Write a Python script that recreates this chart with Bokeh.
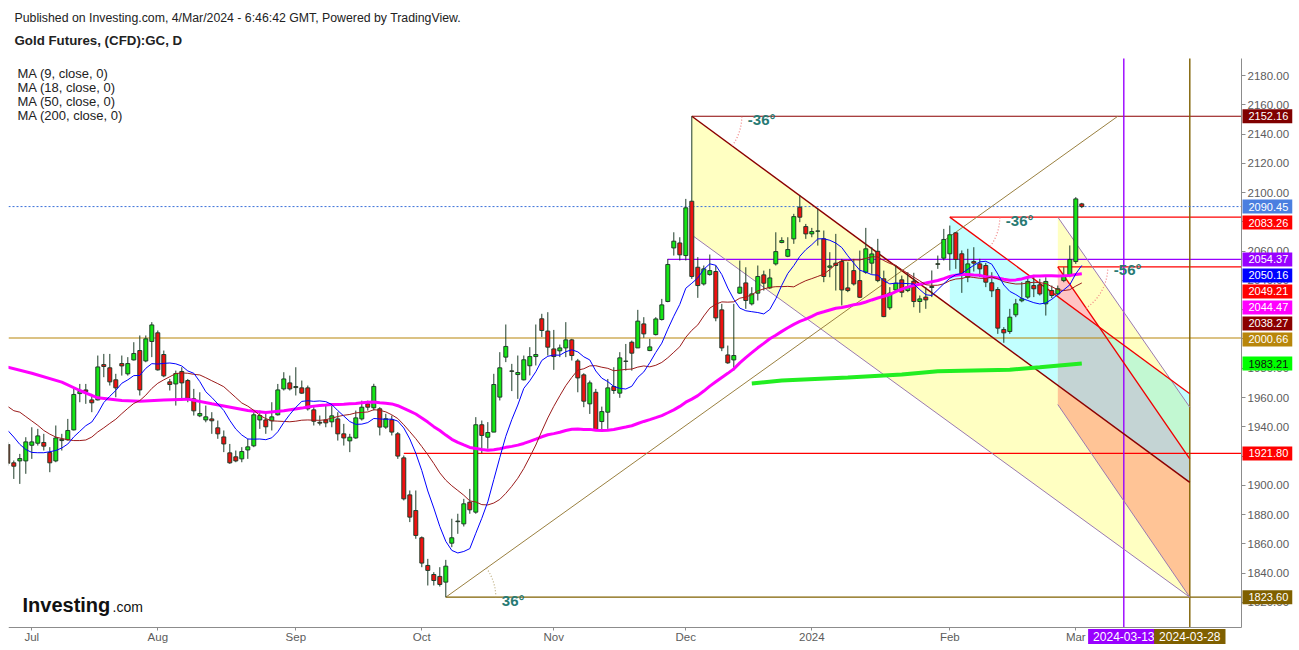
import numpy as np
import pandas as pd
from bokeh.plotting import figure
from bokeh.models import Range1d, FixedTicker, NumeralTickFormatter, Label, ColumnDataSource
from bokeh.embed import file_html
from bokeh.resources import INLINE

# ---------------------------------------------------------------- data
first_session = "2023-06-27"
calendar_end = "2024-03-29"

opens = [1927.9, 1915.4, 1916.7, 1916.7, 1927.4, 1928.8, 1929.3, 1922.4, 1916.7, 1931.5,
         1931.1, 1937.9, 1962.7, 1965.2, 1958.4, 1958.4, 1982.5, 1980.3, 1972.1, 1983.2,
         1976.2, 1985.7, 1992.1, 1985.0, 1998.3, 2004.2, 1989.4, 1970.7, 1969.3, 1977.8,
         1971.6, 1959.1, 1947.5, 1944.7, 1945.4, 1939.3, 1933.1, 1922.2, 1919.5, 1918.1,
         1924.2, 1927.0, 1944.7, 1944.7, 1944.1, 1948.2, 1965.9, 1970.0, 1967.5, 1966.6,
         1966.6, 1951.6, 1943.1, 1944.7, 1943.4, 1945.4, 1935.2, 1930.4, 1932.4, 1945.4,
         1955.7, 1953.0, 1952.3, 1939.8, 1944.8, 1935.2, 1918.8, 1893.5, 1882.8, 1864.2,
         1845.3, 1839.1, 1837.8, 1833.9, 1860.5, 1875.6, 1873.7, 1888.5, 1881.7, 1941.4,
         1932.9, 1936.4, 1960.3, 1987.6, 1978.2, 1975.7, 1972.1, 1981.7, 1988.0, 2013.8,
         2005.4, 1993.2, 1991.9, 1993.9, 1999.4, 1985.0, 1975.5, 1955.7, 1963.6, 1943.6,
         1950.0, 1967.5, 1963.0, 1984.9, 1997.8, 1993.9, 2010.3, 1992.1, 2003.0, 2013.3,
         2025.6, 2062.2, 2065.6, 2057.0, 2094.1, 2049.0, 2037.6, 2044.0, 2046.1, 2019.9,
         1989.1, 1985.7, 2031.3, 2038.3, 2024.0, 2031.3, 2043.8, 2034.9, 2051.3, 2065.9,
         2056.5, 2068.4, 2090.0, 2076.8, 2071.8, 2073.6, 2068.4, 2049.0, 2051.8, 2052.9,
         2034.9, 2046.7, 2039.9, 2045.6, 2051.8, 2059.9, 2041.1, 2021.3, 2033.5, 2040.4,
         2033.1, 2039.5, 2025.6, 2028.6, 2035.9, 2051.4, 2055.2, 2058.2, 2072.5, 2058.2,
         2042.2, 2052.9, 2051.3, 2050.2, 2038.4, 2033.8, 2006.5, 2005.1, 2016.5, 2026.1,
         2028.6, 2036.5, 2037.0, 2024.0, 2033.1, 2030.8, 2039.9, 2043.8, 2052.9, 2092.3]

highs = [1929.5, 1917.0, 1921.5, 1932.9, 1939.7, 1938.6, 1935.2, 1926.1, 1940.9, 1935.2,
         1945.4, 1965.9, 1969.3, 1969.3, 1962.5, 1988.7, 1989.8, 1989.8, 1976.2, 1988.7,
         1987.6, 1997.8, 2002.4, 2002.4, 2011.5, 2005.8, 1992.1, 1972.7, 1978.4, 1980.7,
         1972.7, 1965.9, 1963.6, 1954.5, 1950.0, 1944.3, 1937.5, 1928.3, 1923.8, 1926.1,
         1931.8, 1950.0, 1951.1, 1950.0, 1956.8, 1969.3, 1977.3, 1975.0, 1980.7, 1971.6,
         1968.2, 1954.5, 1947.7, 1954.5, 1954.5, 1950.0, 1942.0, 1935.2, 1951.1, 1957.9,
         1957.9, 1969.4, 1953.4, 1948.9, 1947.7, 1936.4, 1920.4, 1896.5, 1896.5, 1865.1,
         1849.8, 1840.7, 1844.1, 1849.1, 1877.2, 1880.6, 1890.8, 1897.6, 1946.6, 1944.3,
         1943.2, 1976.2, 1991.0, 2009.9, 1983.0, 1988.7, 1988.7, 1994.4, 2009.9, 2017.2,
         2018.3, 2006.2, 1996.2, 2011.5, 2000.1, 1986.4, 1976.6, 1971.6, 1965.9, 1953.8,
         1972.7, 1980.7, 1991.0, 1996.6, 1998.9, 2019.9, 2014.9, 2000.1, 2014.9, 2027.4,
         2054.7, 2072.9, 2069.5, 2095.7, 2152.16, 2055.9, 2050.2, 2057.7, 2050.2, 2024.0,
         1995.5, 2024.0, 2053.6, 2049.0, 2035.4, 2050.2, 2046.7, 2047.9, 2072.9, 2069.5,
         2069.5, 2085.5, 2098.0, 2078.6, 2075.9, 2088.9, 2074.1, 2059.3, 2071.8, 2054.7,
         2052.5, 2054.7, 2060.4, 2075.9, 2062.7, 2068.4, 2046.7, 2035.4, 2050.2, 2043.3,
         2045.6, 2045.2, 2029.7, 2035.4, 2046.8, 2057.0, 2075.2, 2077.5, 2073.0, 2060.5,
         2061.6, 2062.7, 2054.8, 2052.0, 2045.6, 2035.4, 2008.1, 2020.6, 2027.4, 2038.8,
         2042.2, 2043.8, 2041.1, 2042.2, 2036.5, 2036.5, 2049.0, 2063.9, 2096.9, 2093.0]

lows = [1913.5, 1904.4, 1901.0, 1907.9, 1918.1, 1927.2, 1923.8, 1909.0, 1915.8, 1923.8,
        1930.6, 1937.5, 1956.8, 1955.7, 1950.0, 1958.0, 1973.9, 1968.2, 1960.2, 1975.0,
        1975.0, 1985.3, 1961.4, 1984.1, 1987.6, 1978.4, 1973.9, 1964.8, 1954.5, 1958.0,
        1956.8, 1947.7, 1946.6, 1943.1, 1935.2, 1931.8, 1922.7, 1914.7, 1915.8, 1915.8,
        1918.1, 1926.1, 1938.6, 1935.2, 1937.5, 1947.7, 1964.8, 1964.8, 1961.4, 1962.5,
        1951.1, 1940.9, 1940.9, 1939.7, 1939.7, 1930.6, 1927.2, 1922.7, 1931.8, 1944.3,
        1951.1, 1951.2, 1934.1, 1938.6, 1934.1, 1918.1, 1889.7, 1874.9, 1863.5, 1844.1,
        1831.6, 1831.6, 1830.9, 1823.6, 1857.8, 1866.9, 1871.9, 1880.6, 1880.6, 1922.0,
        1925.0, 1936.4, 1958.0, 1984.2, 1964.4, 1959.1, 1971.7, 1975.1, 1981.9, 2001.3,
        1988.7, 1978.9, 1987.6, 1987.6, 1985.3, 1963.6, 1953.4, 1948.8, 1937.5, 1937.0,
        1938.6, 1962.5, 1959.8, 1978.4, 1978.4, 1993.9, 2000.8, 1991.7, 2002.4, 2012.6,
        2025.1, 2057.0, 2053.6, 2053.6, 2041.1, 2028.1, 2036.5, 2043.3, 2012.1, 1991.7,
        1983.0, 1978.4, 2030.8, 2020.6, 2022.9, 2026.3, 2033.1, 2034.2, 2050.2, 2065.4,
        2055.9, 2065.0, 2079.8, 2068.4, 2069.5, 2063.8, 2038.8, 2042.2, 2033.1, 2022.9,
        2032.0, 2036.5, 2028.1, 2044.5, 2044.5, 2038.8, 2014.9, 2019.9, 2033.1, 2028.5,
        2032.0, 2021.7, 2017.9, 2020.6, 2028.6, 2047.9, 2053.6, 2046.8, 2047.9, 2031.5,
        2038.8, 2046.1, 2042.2, 2035.4, 2028.6, 2003.5, 1997.4, 2003.5, 2014.9, 2025.1,
        2027.4, 2028.6, 2029.7, 2016.0, 2027.9, 2029.7, 2038.8, 2042.2, 2051.3, 2089.4]

closes = [1915.1, 1913.1, 1918.3, 1929.7, 1929.7, 1933.8, 1926.8, 1915.4, 1932.4, 1930.6,
          1937.5, 1962.1, 1964.1, 1964.1, 1956.4, 1980.9, 1981.2, 1970.7, 1966.6, 1981.6,
          1983.2, 1990.1, 1965.2, 2000.1, 2009.6, 1978.9, 1974.8, 1968.9, 1976.4, 1970.0,
          1959.5, 1950.9, 1949.1, 1946.8, 1944.1, 1935.2, 1928.3, 1915.4, 1916.7, 1923.1,
          1926.3, 1948.2, 1947.7, 1940.0, 1946.8, 1965.2, 1972.7, 1965.9, 1966.8, 1963.0,
          1952.3, 1943.8, 1942.5, 1942.7, 1947.5, 1935.2, 1932.4, 1932.9, 1946.1, 1953.4,
          1953.4, 1967.6, 1939.8, 1945.5, 1936.4, 1920.0, 1890.8, 1878.3, 1865.8, 1846.9,
          1841.9, 1835.0, 1832.3, 1844.8, 1864.2, 1875.2, 1887.4, 1883.3, 1941.4, 1934.1,
          1936.1, 1968.9, 1980.3, 1994.9, 1977.9, 1977.1, 1985.8, 1988.0, 1989.4, 2005.8,
          1994.4, 1988.0, 1993.9, 1999.4, 1988.7, 1973.4, 1957.5, 1970.0, 1937.9, 1950.4,
          1966.6, 1964.8, 1987.1, 1984.7, 1990.3, 2012.2, 2003.5, 1994.6, 2013.7, 2023.3,
          2050.9, 2066.8, 2057.5, 2089.6, 2042.7, 2036.5, 2047.9, 2046.7, 2014.4, 1993.9,
          1983.7, 1988.7, 2035.4, 2026.3, 2030.8, 2042.7, 2038.1, 2041.7, 2059.7, 2067.2,
          2061.1, 2083.6, 2083.2, 2071.8, 2073.4, 2073.8, 2042.7, 2049.9, 2050.2, 2033.5,
          2033.1, 2037.6, 2028.5, 2061.6, 2058.1, 2039.9, 2015.3, 2031.3, 2038.1, 2031.9,
          2035.8, 2025.6, 2027.4, 2026.7, 2035.2, 2051.0, 2068.0, 2071.2, 2054.3, 2043.4,
          2051.3, 2051.8, 2047.9, 2038.8, 2032.9, 2007.4, 2004.2, 2014.9, 2024.0, 2027.4,
          2039.3, 2034.3, 2030.8, 2039.3, 2029.7, 2034.3, 2043.4, 2054.3, 2095.7, 2090.45]

ma9_head = [1937.5, 1933.0, 1928.0, 1924.5, 1922.5, 1922.3, 1922.3, 1923.0]
ma18_head = [1953.9, 1951.0, 1950.0, 1947.0, 1944.0, 1941.0, 1937.5, 1935.0, 1933.0,
             1932.0, 1931.2, 1930.6, 1930.6, 1931.0, 1933.0, 1936.5, 1939.3]
ma50_head_session = [0, 4, 9, 12, 15, 19, 22, 26, 30, 34, 40, 43, 46]
ma50_head_value = [1980.7, 1976.6, 1970.5, 1964.8, 1959.8, 1958.0, 1957.5, 1958.3,
                   1958.9, 1955.7, 1951.1, 1949.7, 1950.9]
ma200_session = [124, 129, 140, 149, 155, 167, 172, 179]
ma200_value = [1969.6, 1971.6, 1973.7, 1975.8, 1978.0, 1979.0, 1980.7, 1983.21]

# horizontal levels drawn from a start date to the price axis
level_price = [2152.16, 2083.26, 2054.37, 2049.21, 2000.66, 1921.80, 1823.60]
level_from = ["2023-12-04", "2024-02-01", "2023-11-28", "2024-02-27",
              "2023-06-27", "2023-09-27", "2023-10-06"]
vline_dates = ["2024-03-13", "2024-03-28"]

# drawn lines: (from date, from price, to date, to price)
line_M = ("2023-12-04", 2152.16, "2024-03-28", 1902.0)
line_L = ("2023-12-04", 2071.0, "2024-03-28", 1823.6)
line_R2 = ("2024-02-01", 2083.26, "2024-03-28", 1962.6)
line_R1 = ("2024-02-27", 2049.21, "2024-03-28", 1918.1)
line_DT = ("2024-02-27", 2083.26, "2024-03-28", 1953.4)
line_DB = ("2024-02-27", 1955.2, "2024-03-28", 1823.6)
line_UP = ("2023-10-06", 1823.60, "2024-03-12", 2152.16)

angle_text = ["-36°", "-36°", "-56°", "36°"]
angle_date = ["2023-12-04", "2024-02-01", "2024-02-27", "2023-10-06"]
angle_price = [2152.16, 2083.26, 2049.21, 1823.60]
angle_deg = [-36, -36, -56, 36]

tag_values = [2152.16, 2090.45, 2083.26, 2054.37, 2050.16, 2049.21,
              2044.47, 2038.27, 2000.66, 1983.21, 1921.80, 1823.60]
date_tags = ["2024-03-13", "2024-03-28"]
price_ticks = list(range(1820, 2181, 20))
ma_legend = ["MA (9, close, 0)", "MA (18, close, 0)", "MA (50, close, 0)", "MA (200, close, 0)"]
header_1 = "Published on Investing.com, 4/Mar/2024 - 6:46:42 GMT, Powered by TradingView."
header_2 = "Gold Futures, (CFD):GC, D"

# ---------------------------------------------------------------- style / layout
W, H = 1296, 648          # canvas (the page has no margin)
BL = 8                    # frame starts 8px from the left edge
FW, FH = W - BL, H
BAR_PX = 6.0              # pixels per session
PX_PER_UNIT = 1.4638      # pixels per price unit
REF_BAR_PX, REF_PRICE, REF_PRICE_PX = 7.3, 2180.0, 75.0
AXIS_X_PX, AXIS_Y_PX, PLOT_TOP_PX = 1241.0, 627.0, 58.0

x_start = (BL - REF_BAR_PX) / BAR_PX
x_end = x_start + FW / BAR_PX
y_hi = REF_PRICE + REF_PRICE_PX / PX_PER_UNIT
y_lo = y_hi - H / PX_PER_UNIT
axis_x = x_start + (AXIS_X_PX - BL) / BAR_PX
axis_bottom = y_hi - AXIS_Y_PX / PX_PER_UNIT
plot_top = y_hi - PLOT_TOP_PX / PX_PER_UNIT


def sx(px):   # page x -> frame screen x
    return px - BL


def sy(py):   # page y -> frame screen y (measured from bottom)
    return H - py


FONT = "Liberation Sans"
UP_COL, DN_COL, EDGE = "#14E614", "#F01010", "#1F3D2A"
level_colors = ["#8B0000", "#FF0000", "#9900FF", "#FF0000", "#B8860B", "#FF0000", "#7F6000"]
vline_colors = ["#9900FF", "#7F6000"]
tag_bg = ["#800000", "#4A7FE0", "#FF0000", "#9900FF", "#0000FF", "#FF0000",
          "#FF00FF", "#8B0000", "#B8860B", "#00FF00", "#FF0000", "#7F6000"]
tag_fg = ["white"] * 9 + ["#111111"] + ["white"] * 2
date_tag_bg = ["#9900FF", "#7F6000"]
TEAL = "#287A74"

# ---------------------------------------------------------------- helpers
dates = pd.bdate_range(first_session, calendar_end)
n = len(closes)
sess = np.arange(n)


def at(d):
    return int(dates.get_loc(pd.Timestamp(d)))


def seg(s):
    return at(s[0]), s[1], at(s[2]), s[3]


def y_on(s, x):
    x0, y0, x1, y1 = seg(s)
    return y0 + (y1 - y0) * (x - x0) / (x1 - x0)


def cross(a, b):
    ax0, ay0, ax1, ay1 = seg(a)
    bx0, by0, bx1, by1 = seg(b)
    sa = (ay1 - ay0) / (ax1 - ax0)
    sb = (by1 - by0) / (bx1 - bx0)
    x = (by0 - sb * bx0 - ay0 + sa * ax0) / (sa - sb)
    return x, ay0 + sa * (x - ax0)


# ---------------------------------------------------------------- figure
p = figure(width=W, height=H, x_range=Range1d(x_start, x_end), y_range=Range1d(y_lo, y_hi),
           y_axis_location="right", toolbar_location=None, output_backend="svg",
           min_border_left=BL, min_border_right=0, min_border_top=0, min_border_bottom=0)
p.grid.visible = False
p.outline_line_color = None
p.background_fill_color = "white"
p.border_fill_color = "white"

# x axis: month labels at the first session of each month
ticks, overrides = [], {}
for i in range(1, n):
    if dates[i].month != dates[i - 1].month:
        ticks.append(i)
        overrides[i] = str(dates[i].year) if dates[i].month == 1 else dates[i].strftime("%b")
p.xaxis.ticker = FixedTicker(ticks=ticks)
p.xaxis.major_label_overrides = overrides
p.xaxis.fixed_location = axis_bottom
p.xaxis.bounds = (x_start, axis_x)
p.yaxis.ticker = FixedTicker(ticks=price_ticks)
p.yaxis.formatter = NumeralTickFormatter(format="0.00")
p.yaxis.fixed_location = axis_x
p.yaxis.bounds = (axis_bottom, plot_top)
for ax in (p.xaxis, p.yaxis):
    ax.axis_line_color = "#8c8c8c"
    ax.major_tick_line_color = "#8c8c8c"
    ax.minor_tick_line_color = None
    ax.major_tick_in = 0
    ax.major_tick_out = 4
    ax.major_label_text_color = "#5c5c5c"
    ax.major_label_text_font = FONT
    ax.major_label_text_font_size = "11.5px"
p.xaxis.major_tick_out = 3
p.xaxis.major_label_standoff = 0
p.yaxis.major_label_standoff = 2

# ---------------------------------------------------------------- shapes
xM, xE = at(line_M[0]), at(line_M[2])
xF, xG = at(line_R2[0]), at(line_R1[0])
Ix, Iy = cross(line_R1, line_R2)
Jx, Jy = cross(line_R2, line_DT)

shapes = [
    ([xM, xE, xE, xM], [y_on(line_M, xM), y_on(line_M, xE), y_on(line_L, xE), y_on(line_L, xM)], "#FFFFC2"),
    ([xF, xE, xE, xF], [y_on(line_R2, xF), y_on(line_R2, xE), y_on(line_M, xE), y_on(line_M, xF)], "#C2FFFF"),
    ([xG, xE, xE, xG], [y_on(line_DT, xG), y_on(line_DT, xE), y_on(line_DB, xE), y_on(line_DB, xG)], "#FFFFC2"),
    ([xG, Ix, xG], [y_on(line_R1, xG), Iy, y_on(line_R2, xG)], "#FFC4C4"),
    ([xG, Ix, xE, xE, xG], [y_on(line_R2, xG), Iy, y_on(line_R1, xE), y_on(line_M, xE), y_on(line_M, xG)], "#C4D4D4"),
    ([Ix, Jx, xE, xE], [Iy, Jy, y_on(line_DT, xE), y_on(line_R1, xE)], "#C2F8D2"),
    ([xG, xE, xE, xG], [y_on(line_M, xG), y_on(line_M, xE), y_on(line_DB, xE), y_on(line_DB, xG)], "#FFC496"),
]
for xs, ys, col in shapes:
    p.patch(xs, ys, fill_color=col, line_color=None)

# horizontal levels and vertical date lines
for lvl, d, col in zip(level_price, level_from, level_colors):
    p.segment(x0=[max(at(d), x_start)], y0=[lvl], x1=[axis_x], y1=[lvl], line_color=col, line_width=1.2)
for d, col in zip(vline_dates, vline_colors):
    p.segment(x0=[at(d)], y0=[axis_bottom], x1=[at(d)], y1=[plot_top], line_color=col, line_width=1.4)

# current price line
p.segment(x0=[x_start], y0=[closes[-1]], x1=[axis_x], y1=[closes[-1]], line_color="#3A6FD8",
          line_dash="2 2", line_width=1)

# drawn diagonal lines
for s, col, lw in [(line_L, "#9A7AB0", 1.0), (line_DT, "#9A7AB0", 1.0), (line_DB, "#9A7AB0", 1.0),
                   (line_M, "#8B0000", 1.5), (line_R2, "#F00000", 1.3), (line_R1, "#F00000", 1.3),
                   (line_UP, "#9A8040", 1.0)]:
    x0, y0, x1, y1 = seg(s)
    p.line([x0, x1], [y0, y1], line_color=col, line_width=lw)

# angle arcs and labels
for txt, d, pr, deg in zip(angle_text, angle_date, angle_price, angle_deg):
    a = np.radians(deg)
    arc_col = "#B8A878" if deg > 0 else "#F08080"
    p.arc(x=[at(d)], y=[pr], radius=50, radius_units="screen",
          start_angle=min(0.0, a), end_angle=max(0.0, a),
          line_color=arc_col, line_dash="1 2", line_width=1.2)
    p.add_layout(Label(x=at(d), y=pr, x_offset=56, y_offset=-3, text=txt, text_color=TEAL,
                       text_font=FONT, text_font_size="15px", text_font_style="bold",
                       text_baseline="middle"))

# ---------------------------------------------------------------- candles
o, hgh, lw_, c = map(np.array, (opens, highs, lows, closes))
up = c >= o
src = ColumnDataSource(dict(x=sess, high=hgh, low=lw_, top=np.maximum(o, c), bottom=np.minimum(o, c),
                            fill=np.where(up, UP_COL, DN_COL)))
p.segment(x0="x", y0="high", x1="x", y1="low", source=src, line_color=EDGE, line_width=1)
p.vbar(x="x", width=0.66, top="top", bottom="bottom", fill_color="fill", line_color=EDGE,
       line_width=1, source=src)

# ---------------------------------------------------------------- moving averages
cs = pd.Series(closes)
ma9 = cs.rolling(9).mean().to_numpy()
ma9[:len(ma9_head)] = ma9_head
ma18 = cs.rolling(18).mean().to_numpy()
ma18[:len(ma18_head)] = ma18_head
ma50 = cs.rolling(50).mean().to_numpy()
ma50_x = list(ma50_head_session) + list(range(49, n))
ma50_y = list(ma50_head_value) + list(ma50[49:])

p.line(ma200_session, ma200_value, line_color="#22EE22", line_width=4)
p.line(ma50_x, ma50_y, line_color="#FF00FF", line_width=3)
p.line(sess, ma18, line_color="#9B1B1B", line_width=1)
p.line(sess, ma9, line_color="#0000FF", line_width=1)

# ---------------------------------------------------------------- texts
p.add_layout(Label(x=sx(14), y=sy(17), x_units="screen", y_units="screen", text=header_1,
                   text_font=FONT, text_font_size="12.3px", text_color="#222222", text_baseline="middle"))
p.add_layout(Label(x=sx(14), y=sy(40), x_units="screen", y_units="screen", text=header_2,
                   text_font=FONT, text_font_size="13.3px", text_font_style="bold",
                   text_color="#222222", text_baseline="middle"))
for k, t in enumerate(ma_legend):
    p.add_layout(Label(x=sx(17), y=sy(73 + 14 * k), x_units="screen", y_units="screen", text=t,
                       text_font=FONT, text_font_size="13px", text_color="#222222",
                       text_baseline="middle"))
p.add_layout(Label(x=sx(22), y=sy(604), x_units="screen", y_units="screen", text="Investing",
                   text_font=FONT, text_font_size="20px", text_font_style="bold",
                   text_color="#111111", text_baseline="middle"))
p.add_layout(Label(x=sx(112), y=sy(606), x_units="screen", y_units="screen", text=".com",
                   text_font=FONT, text_font_size="14px", text_color="#111111",
                   text_baseline="middle"))

# price tags on the right axis, stacked so they do not overlap
box_h = 16 / PX_PER_UNIT
prev = None
for v, bg, fg in zip(tag_values, tag_bg, tag_fg):
    shown = v if prev is None else min(v, prev - box_h)
    prev = shown
    p.add_layout(Label(x=sx(AXIS_X_PX + 1), y=shown, x_units="screen", y_units="data", text=f"{v:.2f}",
                       text_font=FONT, text_font_size="11px", text_color=fg,
                       text_baseline="middle", background_fill_color=bg,
                       padding=dict(left=6, right=4, top=3, bottom=3)))

# date tags below the time axis
for d, bg in zip(date_tags, date_tag_bg):
    p.add_layout(Label(x=at(d), y=sy(636), x_units="data", y_units="screen", text=d,
                       text_font=FONT, text_font_size="12px", text_color="white",
                       text_align="center", text_baseline="middle", background_fill_color=bg,
                       padding=dict(left=5, right=5, top=3, bottom=3)))

open("out.html", "w").write(file_html(p, INLINE))
